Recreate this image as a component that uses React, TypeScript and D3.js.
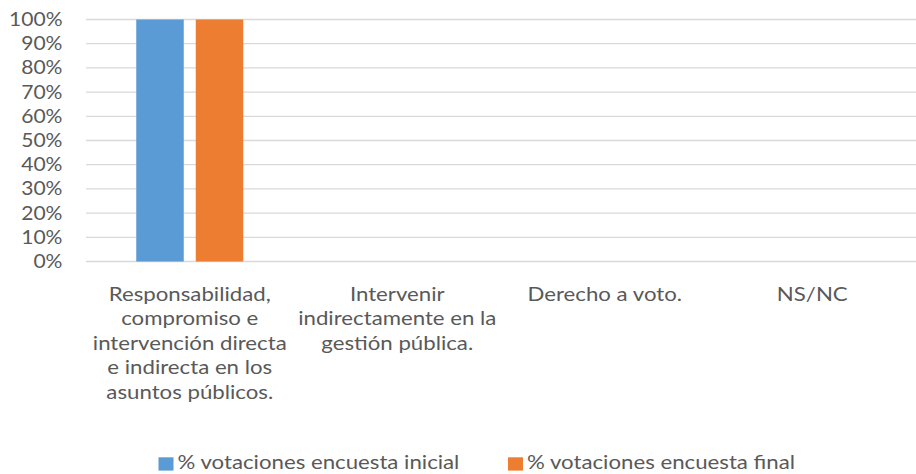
import React from "react";
import * as d3 from "d3";

const categories = [
  "Responsabilidad, compromiso e intervención directa e indirecta en los asuntos públicos.",
  "Intervenir indirectamente en la gestión pública.",
  "Derecho a voto.",
  "NS/NC",
];
const categoryLines = [
  ["Responsabilidad,", "compromiso e", "intervención directa", "e indirecta en los", "asuntos públicos."],
  ["Intervenir", "indirectamente en la", "gestión pública."],
  ["Derecho a voto."],
  ["NS/NC"],
];
const seriesNames = ["% votaciones encuesta inicial", "% votaciones encuesta final"];
const inicial = [1, 0, 0, 0];
const final = [1, 0, 0, 0];
const yTicks = [0, 0.1, 0.2, 0.3, 0.4, 0.5, 0.6, 0.7, 0.8, 0.9, 1];
const colors = ["#5B9BD5", "#ED7D31"];

const W = 916;
const H = 474;
const FONT = "Lato, 'Open Sans', sans-serif";
const TEXT = "#595959";
const FS = 19.5;
const SX = 1.14;
const SX_TICK = 1.08;

export default function App() {
  const x = d3.scaleBand<string>().domain(categories).range([86, 916]).paddingInner(0).paddingOuter(0);
  const y = d3.scaleLinear().domain([0, 1]).range([261.5, 19.5]);
  const barW = 47.5;
  const gap = 12;
  const groupW = barW * 2 + gap;
  const series = [inicial, final];
  const fmt = d3.format(".0%");

  return (
    <svg width={W} height={H} style={{ position: "absolute", left: 0, top: 0, background: "#fff" }} fontFamily={FONT}>
      <rect x={0} y={0} width={W} height={H} fill="#fff" />
      {yTicks.map((t) => (
        <g key={t}>
          <line x1={86} x2={916} y1={y(t)} y2={y(t)} stroke="#D9D9D9" strokeWidth={1.3} />
          <text
            transform={`translate(62.5,${y(t) + 6.4}) scale(${SX_TICK},1)`}
            textAnchor="end"
            fontSize={FS}
            fill={TEXT}
          >
            {fmt(t)}
          </text>
        </g>
      ))}
      {series.map((vals, si) =>
        vals.map((v, ci) => {
          if (v <= 0) return null;
          const bx = (x(categories[ci]) as number) + (x.bandwidth() - groupW) / 2 + si * (barW + gap);
          return <rect key={`${si}-${ci}`} x={bx} y={y(v)} width={barW} height={y(0) - y(v)} fill={colors[si]} />;
        })
      )}
      {categories.map((c, ci) => {
        const cx = (x(c) as number) + x.bandwidth() / 2;
        return (
          <text key={c} transform={`translate(${cx},0) scale(${SX},1)`} textAnchor="middle" fontSize={FS} fill={TEXT}>
            {categoryLines[ci].map((ln, li) => (
              <tspan key={li} x={0} y={301 + li * 24.5}>
                {ln}
              </tspan>
            ))}
          </text>
        );
      })}
      {seriesNames.map((n, i) => {
        const lx = [158.5, 508][i];
        return (
          <g key={n}>
            <rect x={lx} y={457.3} width={15} height={13.3} fill={colors[i]} />
            <text transform={`translate(${lx + 19},469) scale(${SX},1)`} fontSize={FS} fill={TEXT}>
              {n}
            </text>
          </g>
        );
      })}
    </svg>
  );
}
